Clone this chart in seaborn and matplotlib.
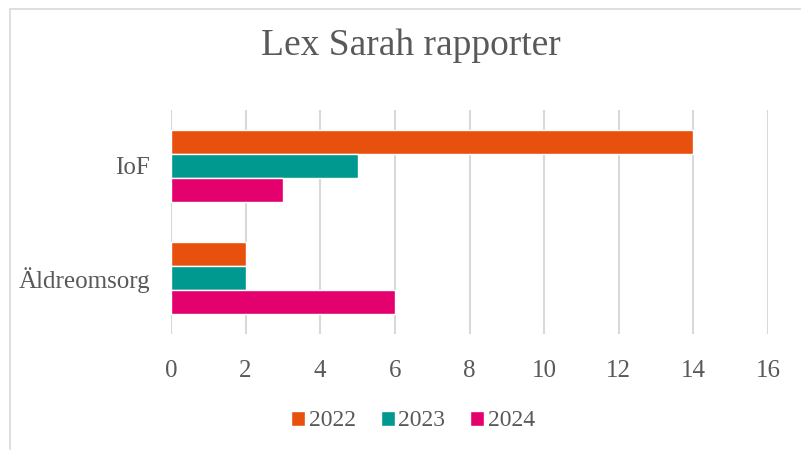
import pandas as pd
import matplotlib
matplotlib.use('Agg')
import matplotlib.pyplot as plt
from matplotlib.patches import Rectangle, Patch
import seaborn as sns

# data
categories = ['IoF', 'Äldreomsorg']
years = ['2022', '2023', '2024']
values_2022 = [14, 2]
values_2023 = [5, 2]
values_2024 = [3, 6]
colors = ['#E8500E', '#00998F', '#E4006D']
x_ticks = [0, 2, 4, 6, 8, 10, 12, 14, 16]

rows = []
for yr, vals in zip(years, [values_2022, values_2023, values_2024]):
    for cat, v in zip(categories, vals):
        rows.append({'kategori': cat, 'år': yr, 'antal': v})
df = pd.DataFrame(rows)

sns.set_style('white')
plt.rcParams['font.family'] = ['Liberation Serif', 'DejaVu Serif']
text_col = '#595959'

fig = plt.figure(figsize=(8.01, 4.5), dpi=100)
ax = fig.add_axes([171 / 801, 1 - 334 / 450, 597 / 801, 224 / 450])

sns.barplot(data=df, y='kategori', x='antal', hue='år', order=categories,
            hue_order=years, palette=colors, orient='h', width=0.634,
            saturation=1, legend=False, ax=ax)

ax.set_xlim(0, 16)
ax.set_ylim(1.5, -0.5)
ax.set_xticks(x_ticks)
ax.set_xticklabels([str(t) for t in x_ticks], fontsize=18, color=text_col)
ax.set_yticklabels(categories, fontsize=18, color=text_col)
ax.tick_params(axis='x', length=0, pad=19)
ax.tick_params(axis='y', length=0, pad=15)
ax.set_xlabel('')
ax.set_ylabel('')
ax.xaxis.grid(True, color='#D9D9D9', linewidth=1.5)
ax.set_axisbelow(True)
for s in ax.spines.values():
    s.set_visible(False)

fig.text(411 / 801, 1 - 46 / 450, 'Lex Sarah rapporter', fontsize=27,
         color=text_col, ha='center', va='center')

handles = [Patch(facecolor=c, label=y) for c, y in zip(colors, years)]
fig.legend(handles=handles, loc='center', bbox_to_anchor=(413 / 801, 1 - 421 / 450),
           ncol=3, frameon=False, fontsize=17, labelcolor=text_col,
           handlelength=0.6, handleheight=0.6, handletextpad=0.15, columnspacing=1.05)

# outer chart border
fig.patches.append(Rectangle((10 / 801, -1.0), 2.0, 2.0 - 9 / 450, transform=fig.transFigure,
                             fill=False, edgecolor='#D9D9D9', linewidth=1.2))

fig.savefig('out.png', dpi=100)
